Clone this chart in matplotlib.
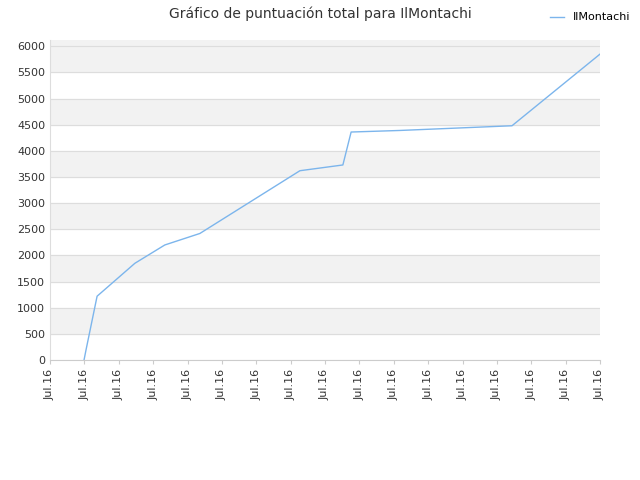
import matplotlib.pyplot as plt

# positions along the x axis (tick units 0..16) and total score
pos = [0.99, 1.05, 1.37, 2.47, 3.34, 4.36, 7.27, 8.52, 8.76, 10.18, 13.44, 16.0]
score = [0, 200, 1220, 1850, 2200, 2420, 3620, 3730, 4360, 4390, 4480, 5850]
tick_labels = ["Jul.16"] * 17

fig = plt.figure(figsize=(6.4, 4.8), dpi=100)
ax = fig.add_axes([50/640, 120/480, 550/640, 320/480])
for lo in range(500, 6500, 1000):
    ax.axhspan(lo, lo + 500, color="#f2f2f2", zorder=0)
ax.axhspan(6000, 6120, color="#f2f2f2", zorder=0)
ax.yaxis.grid(True, color="#dddddd", linewidth=0.8)
ax.set_axisbelow(True)
ax.plot(pos, score, color="#7cb5ec", linewidth=1, label="IlMontachi")
ax.set_xlim(0, 16)
ax.set_ylim(0, 6120)
ax.set_yticks(range(0, 6001, 500))
ax.set_xticks(range(17))
ax.set_xticklabels(tick_labels, rotation=90, fontsize=8, color="#333333")
ax.tick_params(axis="y", labelsize=8, colors="#333333", length=0)
ax.tick_params(axis="x", length=3, color="#cccccc")
for s in ["top", "right", "left"]:
    ax.spines[s].set_visible(False)
ax.spines["bottom"].set_color("#cccccc")
ax.spines["left"].set_visible(True)
ax.spines["left"].set_color("#dddddd")
fig.text(0.5, 0.972, "Gráfico de puntuación total para IlMontachi", ha="center", va="center", fontsize=10, color="#333333")
fig.legend(loc="upper right", bbox_to_anchor=(1.0, 0.995), frameon=False, fontsize=8, handlelength=1.2)
fig.savefig("out.png")
